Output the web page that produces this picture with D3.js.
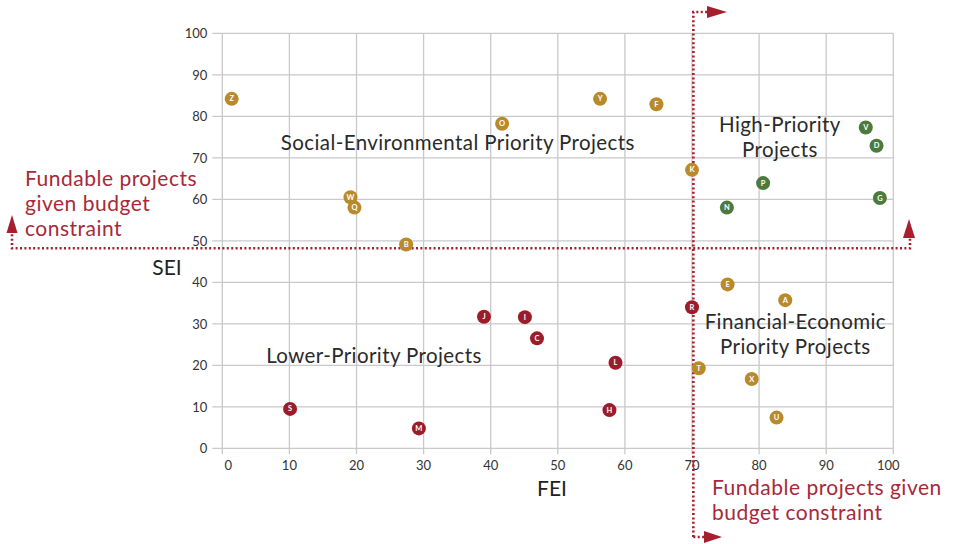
<!DOCTYPE html>
<html><head><meta charset="utf-8">
<script src="https://cdn.jsdelivr.net/npm/d3@7"></script>
<style>
body{margin:0;background:#fff;}
svg{display:block;font-family:Lato,"Noto Sans",sans-serif;}
</style></head><body>
<svg id="chart" width="954" height="544"></svg>
<script>
const projects = ["Z","O","W","Q","Y","F","K","V","D","P","G","N","B","J","S","M","E","A","R","I","C","L","T","X","H","U"];
const feiValues = [1.4,41.7,19.1,19.7,56.3,64.7,70.0,95.9,97.5,80.6,98.0,75.2,27.4,39.0,10.1,29.3,75.3,83.9,70.0,45.1,46.9,58.6,71.0,78.9,57.7,82.6];
const seiValues = [84.2,78.2,60.5,58.0,84.2,82.9,67.1,77.3,72.9,63.9,60.3,58.0,49.1,31.7,9.5,4.8,39.5,35.7,34.0,31.6,26.5,20.6,19.3,16.7,9.2,7.4];
const groups = ["soc","soc","soc","soc","soc","soc","soc","high","high","high","high","high","soc","low","low","low","fin","fin","low","low","low","low","fin","fin","low","fin"];
const xTicks = [0,10,20,30,40,50,60,70,80,90,100];
const yTicks = [0,10,20,30,40,50,60,70,80,90,100];
const feiThreshold = 70.2;
const seiThreshold = 48.2;
const quadrantLabels = [
  {lines:["Social-Environmental Priority Projects"], fei:35.1, sei:71.9},
  {lines:["High-Priority","Projects"], fei:83.1, sei:76.3},
  {lines:["Lower-Priority Projects"], fei:22.6, sei:20.6},
  {lines:["Financial-Economic","Priority Projects"], fei:85.4, sei:28.7}
];

const colors = {soc:"#b98a2c", high:"#4b7a3c", low:"#9c1d2a", fin:"#b98a2c"};
const red = "#a51f2f";
const textRed = "#a8293a";

const svg = d3.select("#chart");
const x = d3.scaleLinear().domain([0,100]).range([222.3,893.3]);
const y = d3.scaleLinear().domain([0,100]).range([448.3,33.3]);

// grid
const g = svg.append("g");
g.selectAll("line.v").data(xTicks).join("line")
  .attr("x1", d=>x(d)).attr("x2", d=>x(d))
  .attr("y1", y(100)).attr("y2", y(0)+6)
  .attr("stroke","#c9c9cc").attr("stroke-width",1.3);
g.selectAll("line.h").data(yTicks).join("line")
  .attr("x1", x(0)-10).attr("x2", x(100))
  .attr("y1", d=>y(d)).attr("y2", d=>y(d))
  .attr("stroke","#c9c9cc").attr("stroke-width",1.3);

// tick labels
g.selectAll("text.xt").data(xTicks).join("text")
  .attr("x", d=>x(d) + (d===0?6:(d===100?-5:0)))
  .attr("y", y(0)+22)
  .attr("text-anchor","middle").attr("font-size",13).attr("fill","#333")
  .text(d=>d);
g.selectAll("text.yt").data(yTicks).join("text")
  .attr("x", x(0)-15)
  .attr("y", d=>y(d)+5)
  .attr("text-anchor","end").attr("font-size",13).attr("fill","#333")
  .text(d=>d);

// axis titles
svg.append("text").attr("x",552).attr("y",496).attr("text-anchor","middle")
  .attr("font-size",21).attr("fill","#222").text("FEI");
svg.append("text").attr("x",167).attr("y",275).attr("text-anchor","middle")
  .attr("font-size",21).attr("fill","#222").text("SEI");

// quadrant labels
quadrantLabels.forEach(q=>{
  const t = svg.append("text").attr("text-anchor","middle").attr("font-size",20.5)
    .attr("letter-spacing",0.4).attr("fill","#2a2a2a");
  q.lines.forEach((l,i)=>{
    t.append("tspan").attr("x", x(q.fei)).attr("y", y(q.sei) + i*25).text(l);
  });
});

// threshold dotted lines
const dash = {"stroke":red, "stroke-width":2.6, "stroke-dasharray":"2,2.4", "fill":"none"};
function dotted(path){
  const p = svg.append("path").attr("d", path);
  Object.entries(dash).forEach(([k,v])=>p.attr(k,v));
}
const hy = y(seiThreshold), vx = x(feiThreshold);
dotted(`M12,${hy-14} V${hy} H910 V${hy-12}`);
dotted(`M${vx},537 V12 H707`);
dotted(`M${vx},537 H705`);
// arrowheads
svg.append("path").attr("d",`M6.5,233 L12,215 L17.5,233 Z`).attr("fill",red);
svg.append("path").attr("d",`M903,238 L909,219 L915,238 Z`).attr("fill",red);
svg.append("path").attr("d",`M707,6 L727,12 L707,18 Z`).attr("fill",red);
svg.append("path").attr("d",`M704,531 L722,537 L704,543 Z`).attr("fill",red);

// annotation text
const a1 = svg.append("text").attr("font-size",21).attr("letter-spacing",0.5).attr("fill",textRed);
["Fundable projects","given budget","constraint"].forEach((l,i)=>
  a1.append("tspan").attr("x",25).attr("y",186+i*25).text(l));
const a2 = svg.append("text").attr("font-size",21).attr("letter-spacing",0.5).attr("fill",textRed);
["Fundable projects given","budget constraint"].forEach((l,i)=>
  a2.append("tspan").attr("x",712).attr("y",495+i*25).text(l));

// points
const pts = svg.append("g").selectAll("g").data(projects.map((p,i)=>({p, fx:feiValues[i], sy:seiValues[i], grp:groups[i]}))).join("g")
  .attr("transform", d=>`translate(${x(d.fx)},${y(d.sy)})`);
pts.append("circle").attr("r",7).attr("fill",d=>colors[d.grp]);
pts.append("text").attr("text-anchor","middle").attr("y",2.6).attr("font-size",7.5)
  .attr("font-weight","bold").attr("fill","#fff").text(d=>d.p);
</script>
</body></html>
